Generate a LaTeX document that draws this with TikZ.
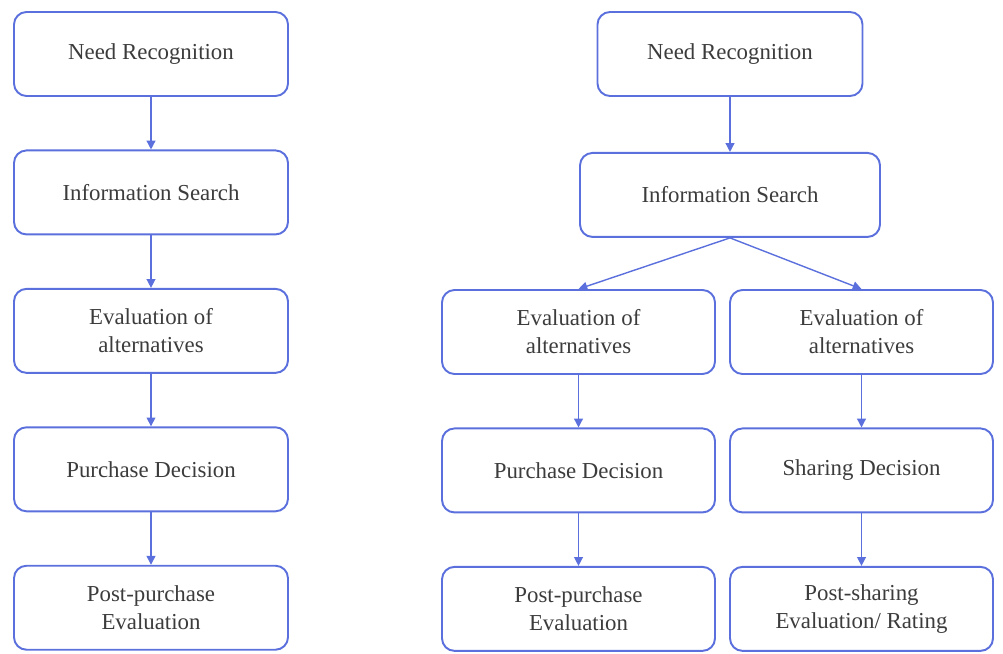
\documentclass[tikz,border=0pt]{standalone}
\usepackage{fontspec}
\setmainfont{Liberation Serif}
\usepackage{xcolor}
\definecolor{boxblue}{HTML}{5B70DD}
\definecolor{textgray}{HTML}{3C3C3C}
\usetikzlibrary{arrows.meta, positioning}
\tikzstyle{stage} = [
  rectangle, rounded corners=0.25cm,
  minimum width=5.48cm, minimum height=1.68cm,
  draw=boxblue, line width=1.1pt, fill=white,
  text=textgray, align=center, font=\fontsize{13}{16}\selectfont
]
\tikzstyle{arrow} = [
  -{Triangle[length=5pt,width=5pt]}, line width=0.8pt, color=boxblue
]

\begin{document}
\begin{tikzpicture}[node distance=1.05cm]
  \useasboundingbox (0,0) rectangle (20.06,-13.08);

  % classic model
  \node[stage] (lneed) at (3.02,-1.08) {Need Recognition};
  \node[stage, below=of lneed] (linfo) {Information Search};
  \node[stage, below=of linfo] (leval) {Evaluation of\\alternatives};
  \node[stage, below=of leval] (ldecision) {Purchase Decision};
  \node[stage, below=of ldecision] (lpost) {Post-purchase\\Evaluation};

  \draw[arrow] (lneed) -- (linfo);
  \draw[arrow] (linfo) -- (leval);
  \draw[arrow] (leval) -- (ldecision);
  \draw[arrow] (ldecision) -- (lpost);

  % extended model
  \node[stage, minimum width=5.3cm] (rneed) at (14.6,-1.08) {Need Recognition};
  \node[stage, minimum width=6.0cm, below=1.1cm of rneed] (rinfo) {Information Search};
  \node[stage, minimum width=5.46cm] (reval) at (11.57,-6.64) {Evaluation of\\alternatives};
  \node[stage, minimum width=5.26cm] (seval) at (17.23,-6.64) {Evaluation of\\alternatives};
  \node[stage, minimum width=5.46cm, below=of reval] (rdecision) {Purchase Decision};
  \node[stage, minimum width=5.26cm, below=of seval] (sdecision) {Sharing Decision};
  \node[stage, minimum width=5.46cm, below=of rdecision] (rpost) {Post-purchase\\Evaluation};
  \node[stage, minimum width=5.26cm, below=of sdecision] (spost) {Post-sharing\\Evaluation/ Rating};

  \draw[arrow] (rneed) -- (rinfo);
  \draw[arrow] (rinfo.south) -- (reval.north);
  \draw[arrow] (rinfo.south) -- (seval.north);
  \draw[arrow] (reval) -- (rdecision);
  \draw[arrow] (rdecision) -- (rpost);
  \draw[arrow] (seval) -- (sdecision);
  \draw[arrow] (sdecision) -- (spost);

\end{tikzpicture}
\end{document}
